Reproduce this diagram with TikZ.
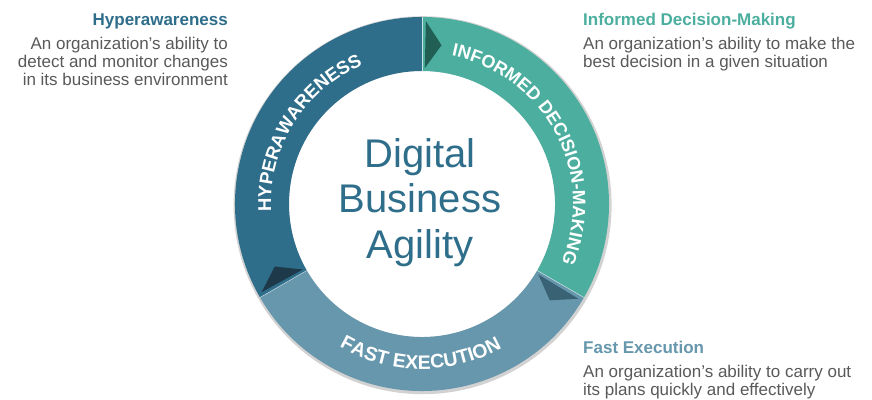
\documentclass[tikz,border=0pt]{standalone}
\usepackage{fontspec}
\setmainfont{Liberation Sans}
\usetikzlibrary{positioning,calc,decorations.text}
\definecolor{hyperblue}{RGB}{47,110,139}
\definecolor{idmteal}{RGB}{75,174,158}
\definecolor{fexblue}{RGB}{102,151,173}
\definecolor{bodygray}{RGB}{89,89,89}
\definecolor{hypertip}{RGB}{30,58,74}
\definecolor{idmtip}{RGB}{33,94,84}
\definecolor{fextip}{RGB}{58,98,117}
\tikzset{
headtext/.style = {inner sep=0pt, font=\fontsize{17}{18}\selectfont\bfseries},
bodytext/.style = {inner sep=0pt, text=bodygray, font=\fontsize{17}{18}\selectfont},
centertext/.style = {inner sep=0pt, text=hyperblue, font=\fontsize{40}{45}\selectfont},
ringtext/.style 2 args = {decorate, decoration={text along path, text align=center, text color=white, text={|\fontsize{#1}{20}\selectfont\bfseries|#2}}}
}

\begin{document}
\begin{tikzpicture}[x=1pt, y=1pt]

                \useasboundingbox (0,0) rectangle (872,399);
                \coordinate (c) at (422,195);

                \fill [gray!35] ($(c)+(0.6,-1.2)$) circle (189pt);
                \fill [white] (c) circle (133pt);
                \foreach \s/\col in {90/idmteal, -30/fexblue, 210/hyperblue}
                    \fill [\col] ($(c)+(\s:187pt)$) arc [start angle=\s, end angle=\s-120, radius=187pt]
                        -- ($(c)+(\s-120:133pt)$) arc [start angle=\s-120, end angle=\s, radius=133pt] -- cycle;
                \foreach \s in {90, -30, 210}
                    \draw [white, line width=0.5pt, opacity=0.7] ($(c)+(\s:133pt)$) -- ($(c)+(\s:187pt)$);
                \foreach \s/\col in {90/idmtip, -30/fextip, 210/hypertip}
                    \fill [\col] ($(c)+(\s-1.2:136pt)$) -- ($(c)+(\s-1.2:183pt)$) -- ($(c)+(\s-7:160pt)$) -- cycle;

                \path [ringtext={18.5}{HYPERAWARENESS}] ($(c)+(208:151pt)$) arc [start angle=208, end angle=88, radius=151pt];
                \path [ringtext={18}{INFORMED DECISION-MAKING}] ($(c)+(88:151pt)$) arc [start angle=88, end angle=-32, radius=151pt];
                \path [ringtext={19.5}{FAST EXECUTION}] ($(c)+(209.5:165pt)$) arc [start angle=209.5, end angle=329.5, radius=165pt];

                \node [centertext, anchor=base] (digital) at (420,231) {Digital};
                \node [centertext, anchor=base] (business) at (420,186) {Business};
                \node [centertext, anchor=base] (agility) at (420,140) {Agility};

                \node [headtext, text=hyperblue, anchor=base east] (hyperhead) at (228,373.5) {Hyperawareness};
                \node [bodytext, align=right, anchor=north east] (hyperbody) at (228,361.8) {An organization’s ability to\\detect and monitor changes\\in its business environment};
                \node [headtext, text=idmteal, anchor=base west] (idmhead) at (583,373.5) {Informed Decision-Making};
                \node [bodytext, align=left, anchor=north west] (idmbody) at (583,361.8) {An organization’s ability to make the\\best decision in a given situation};
                \node [headtext, text=fexblue, anchor=base west] (fexhead) at (583,45.7) {Fast Execution};
                \node [bodytext, align=left, anchor=north west] (fexbody) at (583,33.6) {An organization’s ability to carry out\\its plans quickly and effectively};
            \end{tikzpicture}
\end{document}
